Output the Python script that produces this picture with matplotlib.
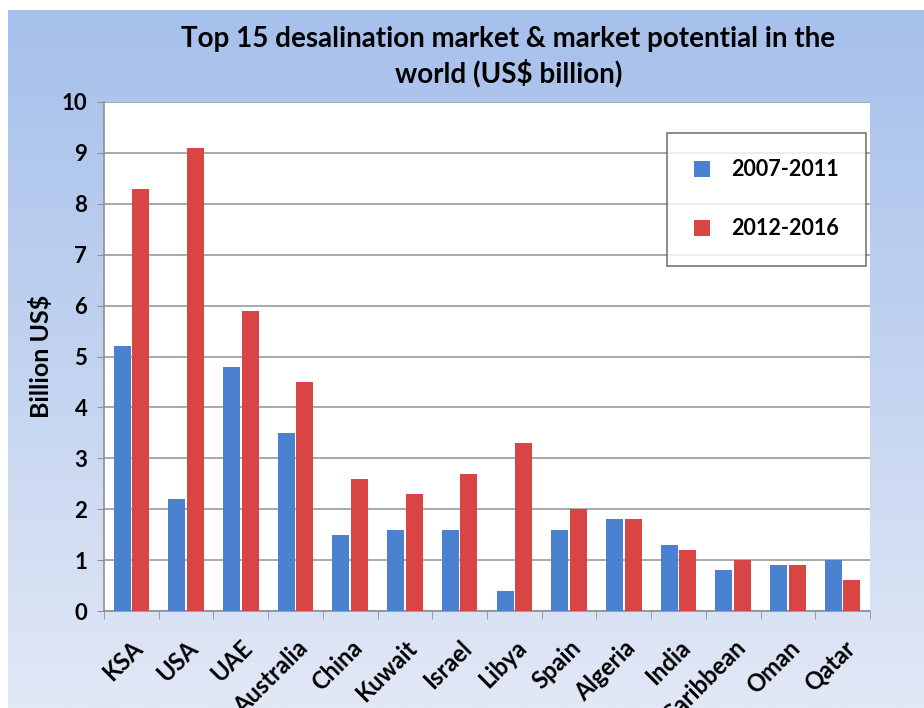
import numpy as np
import matplotlib.pyplot as plt
from matplotlib.colors import LinearSegmentedColormap

plt.rcParams['font.family'] = ['Lato', 'DejaVu Sans']

# market size per country, US$ billion
countries = ["KSA", "USA", "UAE", "Australia", "China", "Kuwait", "Israel",
             "Libya", "Spain", "Algeria", "India", "Caribbean", "Oman", "Qatar"]
period_2007_2011 = [5.2, 2.2, 4.8, 3.5, 1.5, 1.6, 1.6, 0.4, 1.6, 1.8, 1.3, 0.8, 0.9, 1.0]
period_2012_2016 = [8.3, 9.1, 5.9, 4.5, 2.6, 2.3, 2.7, 3.3, 2.0, 1.8, 1.2, 1.0, 0.9, 0.6]
series_labels = ["2007-2011", "2012-2016"]
y_ticks = list(range(0, 11))

fig = plt.figure(figsize=(9.24, 7.08), dpi=100)
fig.patch.set_facecolor("white")

# slide-like blue gradient behind the chart
bg = fig.add_axes([0.009, 0, 0.991, 0.986], zorder=-10)
grad_cmap = LinearSegmentedColormap.from_list("bg", ["#a6c0ec", "#c2d3f0", "#e2e8f6"])
grad = np.linspace(0, 1, 256).reshape(-1, 1)
bg.imshow(grad, aspect="auto", cmap=grad_cmap, extent=[0, 1, 0, 1], origin="upper")
bg.set_axis_off()

ax = fig.add_axes([104 / 924, 1 - 611 / 708, (870 - 104) / 924, (611 - 102) / 708])
ax.set_facecolor("white")

x = np.arange(len(countries))
w = 0.31
ax.bar(x - w / 2 - 0.015, period_2007_2011, width=w, color="#4a82d0", label=series_labels[0], zorder=3)
ax.bar(x + w / 2 + 0.015, period_2012_2016, width=w, color="#d94545", label=series_labels[1], zorder=3)

ax.set_xlim(-0.5, len(countries) - 0.5)
ax.set_ylim(0, 10)
ax.set_yticks(y_ticks)
ax.set_yticklabels([str(t) for t in y_ticks], fontsize=16, fontweight="bold")
ax.yaxis.grid(True, color="#a8a8a8", linewidth=1.4, zorder=0)
ax.set_axisbelow(True)

# category labels between boundary tick marks
ax.set_xticks(x)
ax.set_xticklabels(countries, rotation=45, ha="right", rotation_mode="anchor",
                   fontsize=17, fontweight="bold")
ax.tick_params(axis="x", length=0, pad=18)
ax.set_xticks(np.arange(-0.5, len(countries), 1), minor=True)
ax.tick_params(axis="x", which="minor", length=6, color="#909090")
ax.tick_params(axis="y", length=5, color="#909090", pad=7)

for side in ["top", "right"]:
    ax.spines[side].set_visible(False)
for side in ["left", "bottom"]:
    ax.spines[side].set_color("#909090")
    ax.spines[side].set_linewidth(1.2)

ax.set_ylabel("Billion US$", fontsize=18, fontweight="bold", labelpad=6)

fig.suptitle("Top 15 desalination market & market potential in the\nworld (US$ billion)",
             x=0.55, y=0.963, fontsize=20, fontweight="bold", linespacing=1.3)

leg = ax.legend(loc="upper right", bbox_to_anchor=(0.995, 0.94),
                prop={"weight": "bold", "size": 15.5}, frameon=True, fancybox=False,
                handlelength=0.75, handleheight=0.75, labelspacing=1.75,
                borderpad=1.25, handletextpad=1.0, borderaxespad=0)
leg.get_frame().set_edgecolor("#555555")
leg.get_frame().set_linewidth(1.2)

fig.savefig("out.png", dpi=100)
